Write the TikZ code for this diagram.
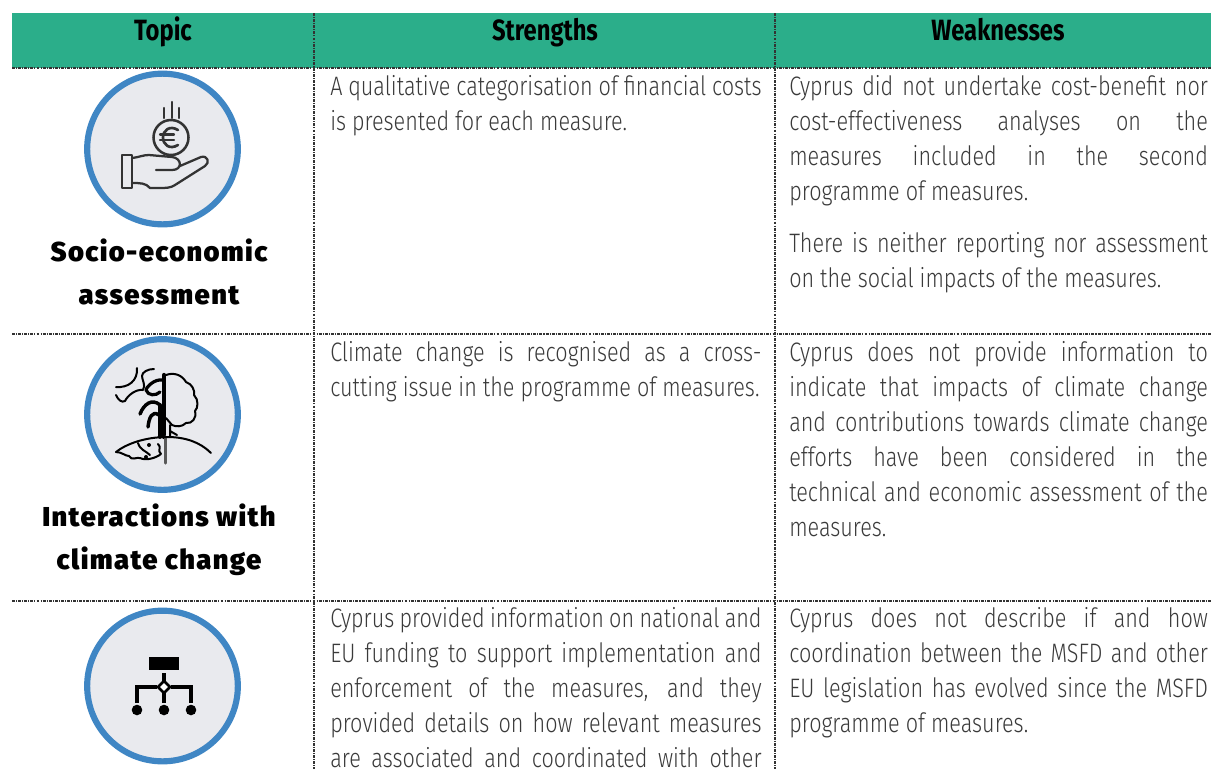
\documentclass[tikz,border=0pt]{standalone}
\usepackage{fontspec}
\setmainfont[UprightFont={* Light},BoldFont={* Bold},FakeStretch=0.81]{Fira Sans}
\newfontfamily\heavyfont[UprightFont={* Black},LetterSpace=5]{Fira Sans}
\definecolor{hdr}{HTML}{2BAE8A}
\definecolor{ringc}{HTML}{3F86C4}
\definecolor{discc}{HTML}{E9EAEE}
\definecolor{txtc}{HTML}{3A3A3A}
\newlength{\colw}
\newcommand{\jline}[1]{\hbox to \colw{\spaceskip=0.2em plus 1fil\relax #1}\par}
\newcommand{\lline}[1]{\hbox to \colw{#1\hfil}\par}
\tikzset{
 px/.style={x=0.75pt,y=-0.75pt},
 headtext/.style={font=\fontsize{22pt}{24pt}\selectfont\bfseries,text=black,anchor=base,inner sep=0},
 bodytext/.style={font=\fontsize{20pt}{26.25pt}\selectfont,text=txtc,anchor=north west,inner sep=0},
 topictext/.style={font=\fontsize{20.5pt}{32pt}\heavyfont,text=black,anchor=center,align=center,inner sep=0},
 rule/.style={line width=0.8pt,dash pattern=on 2.2pt off 0.8pt on 0.8pt off 0.8pt,draw=black!80},
 disc/.style={circle,draw=ringc,fill=discc,line width=4.6pt,minimum size=113pt,inner sep=0},
 icon/.style={draw=black!80,line width=1.7pt,line cap=round,line join=round}
}
\setlength{\colw}{323.5pt}
\begin{document}
\begin{tikzpicture}[px]
\useasboundingbox (0,0) rectangle (1211,769);
\clip (0,0) rectangle (1211,769);
\fill[white] (0,0) rectangle (1211,769);
\fill[hdr] (12,13) rectangle (1211,68);
\node[headtext] (h1) at (163,40) {Topic};
\node[headtext] (h2) at (545,40) {Strengths};
\node[headtext] (h3) at (998,40) {Weaknesses};
\draw[rule] (12,68) -- (1211,68);
\draw[rule] (12,334) -- (1211,334);
\draw[rule] (12,601) -- (1211,601);
\draw[rule] (314,13) -- (314,769);
\draw[rule] (775,13) -- (775,769);
% discs
\node[disc] (d1) at (162.5,149) {};
\node[disc] (d2) at (162.5,414.5) {};
\node[disc] (d3) at (162.5,686) {};
% topics
\node[topictext] (t1) at (159,272) {Socio-economic\\assessment};
\node[topictext] (t2) at (159,539.5) {Interactions with\\climate change};
% strengths
\node[bodytext] (s1) at (330,75) {\parbox{\colw}{\jline{A qualitative categorisation of financial costs}\lline{is presented for each measure.}}};
\node[bodytext] (s2) at (330,341) {\parbox{\colw}{\jline{Climate change is recognised as a cross-}\lline{cutting issue in the programme of measures.}}};
\node[bodytext] (s3) at (330,607) {\parbox{\colw}{\jline{Cyprus provided information on national and}\jline{EU funding to support implementation and}\jline{enforcement of the measures, and they}\jline{provided details on how relevant measures}\jline{are associated and coordinated with other}}};
% weaknesses
\setlength{\colw}{314pt}
\node[bodytext] (w1) at (789,75) {\parbox{\colw}{\jline{Cyprus did not undertake cost-benefit nor}\jline{cost-effectiveness analyses on the}\jline{measures included in the second}\lline{programme of measures.}}};
\node[bodytext] (w1b) at (789,232) {\parbox{\colw}{\jline{There is neither reporting nor assessment}\lline{on the social impacts of the measures.}}};
\node[bodytext] (w2) at (789,341) {\parbox{\colw}{\jline{Cyprus does not provide information to}\jline{indicate that impacts of climate change}\jline{and contributions towards climate change}\jline{efforts have been considered in the}\jline{technical and economic assessment of the}\lline{measures.}}};
\node[bodytext] (w3) at (789,607) {\parbox{\colw}{\jline{Cyprus does not describe if and how}\jline{coordination between the MSFD and other}\jline{EU legislation has evolved since the MSFD}\lline{programme of measures.}}};
% hand icon
\begin{scope}[icon]
\draw (164,108) -- (164,118) (172,102) -- (172,118) (179,108) -- (179,118);
\draw[line width=1.9pt] (171,137.5) circle (17.5);
\draw[line width=2pt] (178,130) .. controls (170,125) and (163,130) .. (163,137.5) .. controls (163,145) and (170,150) .. (178,145);
\draw[line width=1.7pt] (160,134.5) -- (174,134.5) (160,140) -- (174,140);
\draw[line width=1.9pt] (122,155) rectangle (132,188);
\draw (132,158) .. controls (140,157) and (143,155) .. (149,155) -- (172,157) .. controls (182,158) and (183,170) .. (172,170) -- (156,170);
\draw (180,166) -- (201,157) .. controls (208,155) and (210,163) .. (205,166) -- (175,185) .. controls (171,188) and (165,188) .. (160,188) -- (150,188) .. controls (146,183) and (140,183) .. (132,183);
\end{scope}
% climate icon
\begin{scope}[draw=black,line width=1.5pt,line cap=round,line join=round]
\draw[line width=3.2pt] (164,375) -- (164,437);
\draw[draw=black!65,line width=2.4pt] (165.5,437) -- (165.5,463);
\draw (166,375) .. controls (174,372) and (182,375) .. (186,382) .. controls (192,384) and (195,390) .. (194,395) .. controls (199,400) and (198,408) .. (195,411) .. controls (197,418) and (192,424) .. (186,423) .. controls (182,427) and (176,427) .. (172,425) .. controls (170,423) and (168,420) .. (166,418);
\draw (170,425) -- (170,436) (170,431) -- (177,435);
\draw (116,452) .. controls (126,444) and (145,437) .. (167,437) .. controls (185,437) and (200,442) .. (211,453);
\draw (116,452) .. controls (122,452) and (125,456) .. (129,456) .. controls (132,461) and (136,457) .. (140,458) .. controls (146,461) and (156,458) .. (161,454) .. controls (157,451) and (162,447) .. (158,444);
\draw (138,443) .. controls (140,450) and (146,451) .. (150,455);
\fill (149,445) circle (2) (146,457) circle (2);
\draw (116,387) .. controls (128,388) and (138,381) .. (137,368);
\draw (116,395) .. controls (118,400) and (122,403) .. (125,401) .. controls (128,395) and (136,389) .. (143,390) .. controls (146,385) and (142,380) .. (142,376) .. controls (142,372) and (148,369) .. (154,369);
\draw[line width=2.4pt] (162,380) .. controls (155,379) and (147,386) .. (146,390) .. controls (148,396) and (156,396) .. (160,392);
\draw[line width=2.6pt] (160,405) .. controls (152,398) and (144,404) .. (140,414);
\draw[line width=2.6pt] (159,415) .. controls (152,410) and (149,418) .. (148,427);
\draw[line width=2.8pt] (160,437) -- (160,405);
\end{scope}
% organisation icon
\fill[black] (149,657) rectangle (179,670);
\begin{scope}[draw=black,line width=2.3pt]
\draw (164,673) -- (164,681);
\draw (137,703) -- (137,687) -- (157,687) (171,687) -- (191,687) -- (191,703);
\draw (164,693) -- (164,703);
\fill[black] (137,710) circle (5.3) (164,710) circle (5.3) (191,710) circle (5.3);
\draw[fill=white,line width=1.9pt] (164,681) -- (170,687) -- (164,693) -- (158,687) -- cycle;
\end{scope}
\end{tikzpicture}
\end{document}
